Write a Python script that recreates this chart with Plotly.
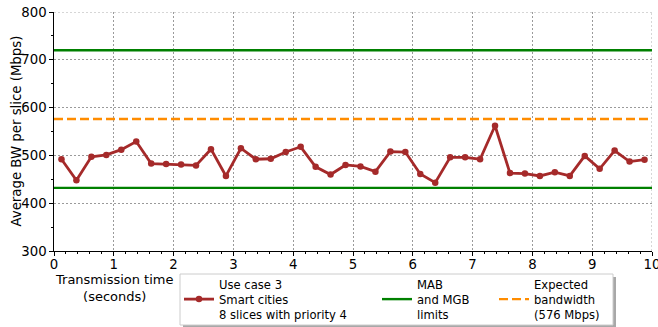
import plotly.graph_objects as go

# Time samples (seconds) and average bandwidth per slice (Mbps)
time_s = [0.125, 0.375, 0.625, 0.875, 1.125, 1.375, 1.625, 1.875,
          2.125, 2.375, 2.625, 2.875, 3.125, 3.375, 3.625, 3.875,
          4.125, 4.375, 4.625, 4.875, 5.125, 5.375, 5.625, 5.875,
          6.125, 6.375, 6.625, 6.875, 7.125, 7.375, 7.625, 7.875,
          8.125, 8.375, 8.625, 8.875, 9.125, 9.375, 9.625, 9.875]
avg_bw = [492, 448, 497, 501, 512, 529, 483, 482,
          481, 479, 513, 457, 515, 492, 493, 507,
          518, 476, 460, 480, 477, 466, 508, 507,
          461, 443, 496, 496, 492, 562, 463, 462,
          457, 465, 457, 499, 472, 510, 487, 491]

mab_limit = 720
mgb_limit = 432
expected_bw = 576
x_range = [0, 10]
y_range = [300, 800]

FONT = "DejaVu Sans"
W, H = 658, 327
ML, MR, MT, MB = 54, 6, 12, 76
PW, PH = W - ML - MR, H - MT - MB


def px_to_paper(px, py):
    """Convert page pixel coordinates to paper coordinates."""
    return (px - ML) / PW, (H - MB - py) / PH


fig = go.Figure()

fig.add_trace(go.Scatter(
    x=time_s, y=avg_bw, mode="lines+markers",
    name="Use case 3<br>Smart cities<br>8 slices with priority 4",
    line=dict(color="#a52a2a", width=2.8),
    marker=dict(color="#a52a2a", size=6.5),
    legend="legend",
))

fig.add_trace(go.Scatter(
    x=[x_range[0], x_range[1], None, x_range[0], x_range[1]],
    y=[mab_limit, mab_limit, None, mgb_limit, mgb_limit],
    mode="lines", name="MAB<br>and MGB<br>limits",
    line=dict(color="#008000", width=2.4),
    legend="legend2",
))

fig.add_trace(go.Scatter(
    x=x_range, y=[expected_bw, expected_bw],
    mode="lines", name="Expected<br>bandwidth<br>(576 Mbps)",
    line=dict(color="#ff8c00", width=2.4, dash="9px,4px"),
    legend="legend3",
))

grid = dict(showgrid=True, gridcolor="#9a9a9a", gridwidth=0.8, griddash="2px,2px")

fig.update_xaxes(
    range=x_range, dtick=1, tick0=0, zeroline=False,
    showline=True, linecolor="black", linewidth=1.2,
    ticks="outside", ticklen=3.5, tickcolor="black",
    minor=dict(dtick=0.2, ticks="outside", ticklen=2, tickcolor="black", showgrid=False),
    tickfont=dict(family=FONT, size=13.3, color="black"),
    ticklabeloverflow="allow", ticklabelstandoff=-3,
    **grid,
)
fig.update_yaxes(
    range=y_range, dtick=100, zeroline=False,
    showline=True, linecolor="black", linewidth=1.2,
    ticks="outside", ticklen=3.5, tickcolor="black",
    minor=dict(dtick=50, ticks="outside", ticklen=2, tickcolor="black", showgrid=False),
    tickfont=dict(family=FONT, size=13.3, color="black"),
    **grid,
)

# grid lines along the far edges of the axes
fig.add_shape(type="line", xref="x", yref="y", x0=x_range[1], x1=x_range[1],
              y0=y_range[0], y1=y_range[1], layer="below",
              line=dict(color="#9a9a9a", width=0.8, dash="2px,2px"))
fig.add_shape(type="line", xref="x", yref="y", x0=x_range[0], x1=x_range[1],
              y0=y_range[1], y1=y_range[1], layer="below",
              line=dict(color="#9a9a9a", width=0.8, dash="2px,2px"))

# axis titles
tx, ty = px_to_paper(16, MT + PH / 2)
fig.add_annotation(
    text="Average BW per slice (Mbps)", xref="paper", yref="paper",
    x=tx, y=ty, xanchor="center", yanchor="middle", textangle=-90,
    showarrow=False, font=dict(family=FONT, size=13.3, color="black"),
)
ax, ay = px_to_paper(114, 270)
fig.add_annotation(
    text="Transmission time<br>(seconds)", xref="paper", yref="paper",
    x=ax, y=ay, xanchor="center", yanchor="top", showarrow=False,
    font=dict(family=FONT, size=13, color="black"), align="center",
)

# legend frame with a drop shadow
sx0, sy0 = px_to_paper(183, 277)
sx1, sy1 = px_to_paper(616, 328)
fig.add_shape(type="rect", xref="paper", yref="paper",
              x0=sx0, x1=sx1, y0=sy0, y1=sy1,
              fillcolor="#a8a8a8", line=dict(width=0), layer="above")
bx0, by0 = px_to_paper(180, 274)
bx1, by1 = px_to_paper(613, 325)
fig.add_shape(type="rect", xref="paper", yref="paper",
              x0=bx0, x1=bx1, y0=by0, y1=by1,
              fillcolor="white", line=dict(color="#cccccc", width=1), layer="above")

legend_style = dict(
    xref="container", yref="container", xanchor="left", yanchor="top",
    bgcolor="rgba(0,0,0,0)", borderwidth=0, itemwidth=30, maxheight=200,
    font=dict(family=FONT, size=11.6, color="black"),
)
legend_top = 1 - 270 / H

fig.update_layout(
    width=W, height=H,
    margin=dict(l=ML, r=MR, t=MT, b=MB, autoexpand=False),
    plot_bgcolor="white", paper_bgcolor="white",
    showlegend=True,
    legend=dict(x=179 / W, y=legend_top, **legend_style),
    legend2=dict(x=377 / W, y=legend_top, **legend_style),
    legend3=dict(x=494 / W, y=legend_top, **legend_style),
)

fig.write_html("out.html")
